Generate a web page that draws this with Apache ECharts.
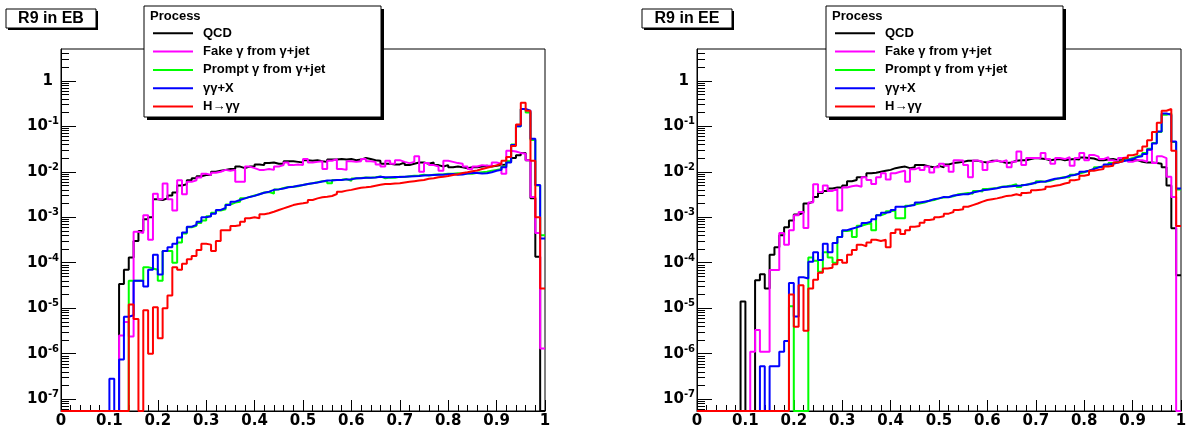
<!DOCTYPE html>
<html><head><meta charset="utf-8">
<script src="https://cdn.jsdelivr.net/npm/echarts@6/dist/echarts.min.js"></script>
<style>html,body{margin:0;padding:0;background:#fff}#c{width:1191px;height:432px}</style>
</head><body><div id="c"></div>
<script>
// ---------- data ----------
const seriesNames = ['QCD', 'Fake \u03b3 from \u03b3+jet', 'Prompt \u03b3 from \u03b3+jet', '\u03b3\u03b3+X', 'H\u2192\u03b3\u03b3'];
const seriesColors = ['#000000', '#ff00ff', '#00ff00', '#0000ff', '#ff0000'];
const panelTitles = ['R9 in EB', 'R9 in EE'];
const legendHeader = 'Process';
const xTickLabels = ['0', '0.1', '0.2', '0.3', '0.4', '0.5', '0.6', '0.7', '0.8', '0.9', '1'];
const yTickValues = [1e-7, 1e-6, 1e-5, 1e-4, 1e-3, 1e-2, 1e-1, 1];
const yTickLabels = ['10^-7', '10^-6', '10^-5', '10^-4', '10^-3', '10^-2', '10^-1', '1'];
const nBins = 100, xLow = 0, xHigh = 1;
const yMin = 5.5e-8, yMax = 5;

// EB (barrel) histograms, 100 bins of R9 from 0 to 1
const ebQCD = [
0,0,0,0,0,0,0,0,0,0,
0,0,3.4e-5,7e-5,1.3e-4,3e-4,5e-4,9e-4,1e-3,2.5e-3,
2.4e-3,2.6e-3,3e-3,3.5e-3,5e-3,5.3e-3,6.5e-3,7.2e-3,8e-3,8.5e-3,
8.5e-3,1e-2,1.05e-2,1.1e-2,1.15e-2,1.15e-2,1.3e-2,1.2e-2,1.3e-2,1.3e-2,
1.45e-2,1.4e-2,1.55e-2,1.6e-2,1.5e-2,1.5e-2,1.7e-2,1.7e-2,1.65e-2,1.6e-2,
1.8e-2,1.75e-2,1.8e-2,1.7e-2,1.65e-2,1.85e-2,1.85e-2,1.9e-2,1.85e-2,1.9e-2,
1.8e-2,1.85e-2,2e-2,1.9e-2,1.8e-2,1.75e-2,1.5e-2,1.5e-2,1.45e-2,1.45e-2,
1.6e-2,1.4e-2,1.5e-2,1.6e-2,1.6e-2,1.5e-2,1.6e-2,1.4e-2,1.3e-2,1.4e-2,
1.25e-2,1.3e-2,1.25e-2,1.2e-2,1.25e-2,1.25e-2,1.3e-2,1.35e-2,1.3e-2,1.35e-2,
1.4e-2,1.45e-2,1.65e-2,2e-2,2.3e-2,2.6e-2,1.8e-2,2.6e-3,1.35e-4,0];
const ebFake = [
0,0,0,0,0,0,0,0,0,0,
0,0,2.5e-6,5e-6,2.4e-6,4.8e-4,4.5e-4,1.1e-3,3.2e-4,3.3e-3,
2.5e-3,5.5e-3,2.5e-3,1.4e-3,6.5e-3,3.2e-3,6e-3,6.5e-3,7.5e-3,9e-3,
8.5e-3,9.5e-3,1e-2,1.1e-2,1.05e-2,1.1e-2,6e-3,6e-3,1.3e-2,1.2e-2,
1.1e-2,1.1e-2,1.15e-2,1.1e-2,1.3e-2,1.4e-2,1.6e-2,1.4e-2,1.45e-2,1.4e-2,
1.9e-2,1.6e-2,1.65e-2,1.7e-2,1.15e-2,1.75e-2,1.9e-2,1.15e-2,1.1e-2,1.7e-2,
1.65e-2,1.7e-2,1.9e-2,1.7e-2,1.65e-2,1.45e-2,1.3e-2,1.75e-2,1.5e-2,1.8e-2,
1.65e-2,1.55e-2,1.65e-2,2.2e-2,1e-2,1.55e-2,1.4e-2,1.3e-2,1.05e-2,1.75e-2,
1.65e-2,1.55e-2,1.5e-2,1.3e-2,1.15e-2,1.3e-2,1.4e-2,1.35e-2,1.35e-2,1.6e-2,
1.5e-2,9e-3,2.9e-2,2.8e-2,2.6e-2,2.5e-2,1.8e-2,2.8e-3,4.5e-4,1.3e-6];
const ebPrompt = [
0,0,0,0,0,0,0,0,0,0,
0,0,0,0,4e-5,4e-5,4e-5,8e-5,7.5e-5,7e-5,
4e-5,1.8e-4,1.8e-4,1e-4,2.8e-4,4.4e-4,6e-4,6.5e-4,7.5e-4,8.5e-4,
1.05e-3,1.25e-3,1.4e-3,1.5e-3,1.9e-3,2.1e-3,2.2e-3,2.6e-3,2.8e-3,3e-3,
3.2e-3,3.5e-3,3.6e-3,3.3e-3,4.1e-3,4.4e-3,4.6e-3,4.7e-3,4.8e-3,5.1e-3,
5.4e-3,5.6e-3,5.9e-3,6.2e-3,6.3e-3,5.6e-3,6.6e-3,6.7e-3,6.9e-3,6.3e-3,
7.1e-3,7.3e-3,7.5e-3,7.4e-3,7.6e-3,7.9e-3,7.2e-3,7.5e-3,7.4e-3,7.8e-3,
7.7e-3,8e-3,8.2e-3,8.3e-3,8.6e-3,8.3e-3,8.6e-3,8.7e-3,8.8e-3,9e-3,
9.1e-3,9.3e-3,9.2e-3,9.2e-3,9e-3,9.5e-3,9.8e-3,1e-2,1.05e-2,1.1e-2,
1.15e-2,1.3e-2,1.7e-2,4e-2,0.1,0.24,0.2,5e-2,5e-3,4e-4];
const ebDiphoton = [
0,0,0,0,0,0,0,0,0,0,
2.8e-7,0,7.5e-7,6.5e-6,7e-6,4e-5,4e-5,3e-5,7e-5,1.5e-4,
5.5e-5,1.8e-4,2.2e-4,2.6e-4,3.6e-4,4.6e-4,6.2e-4,6.8e-4,8e-4,1e-3,
1.05e-3,1.2e-3,1.45e-3,1.6e-3,1.85e-3,2.2e-3,2.4e-3,2.6e-3,2.8e-3,2.95e-3,
3.2e-3,3.45e-3,3.65e-3,4e-3,4.1e-3,4.3e-3,4.55e-3,4.7e-3,4.9e-3,5.1e-3,
5.4e-3,5.6e-3,5.8e-3,6.1e-3,6.4e-3,6.4e-3,6.6e-3,6.6e-3,6.8e-3,6.8e-3,
7.2e-3,7.2e-3,7.4e-3,7.4e-3,7.5e-3,7.8e-3,7.6e-3,7.6e-3,7.7e-3,7.7e-3,
7.8e-3,7.9e-3,8e-3,8.1e-3,8.3e-3,8.4e-3,8.5e-3,8.6e-3,8.6e-3,8.8e-3,
8.9e-3,8.6e-3,8.7e-3,9.1e-3,9.4e-3,9.4e-3,9.2e-3,9.3e-3,9.8e-3,1.05e-2,
1.1e-2,1.25e-2,1.6e-2,3.9e-2,0.1,0.24,0.22,5.3e-2,5.1e-3,3.4e-4];
const ebHiggs = [
0,0,0,0,0,0,0,0,0,0,
0,0,0,0,1.2e-5,5.8e-6,0,9e-6,1e-6,1.05e-5,
2.2e-6,1e-5,1.9e-5,8e-5,7e-5,9.5e-5,1.2e-4,1.4e-4,1.9e-4,2.6e-4,
2.5e-4,1.8e-4,3e-4,5.2e-4,5.2e-4,6.4e-4,6.7e-4,8e-4,9.5e-4,1e-3,
9.5e-4,1.17e-3,1.22e-3,1.32e-3,1.44e-3,1.57e-3,1.7e-3,1.85e-3,1.95e-3,2.02e-3,
2.1e-3,2.4e-3,2.6e-3,2.75e-3,2.83e-3,2.93e-3,3.24e-3,3.65e-3,3.85e-3,4e-3,
4.25e-3,4.45e-3,4.55e-3,4.7e-3,4.95e-3,5.2e-3,5.4e-3,5.4e-3,5.5e-3,5.6e-3,
5.8e-3,6e-3,6.2e-3,6.4e-3,6.6e-3,7e-3,7.2e-3,7.6e-3,7.8e-3,8.1e-3,
8.5e-3,8.8e-3,9.4e-3,9.8e-3,1.03e-2,1.07e-2,1.15e-2,1.22e-2,1.3e-2,1.38e-2,
1.5e-2,1.75e-2,2.1e-2,3.7e-2,0.11,0.33,0.22,1.75e-2,1e-3,2.7e-5];

// EE (endcap) histograms
const eeQCD = [
0,0,0,0,0,0,0,0,0,1.4e-5,
0,0,4.1e-5,5.6e-5,2.7e-5,1.5e-4,2.2e-4,4e-4,6e-4,8.5e-4,
1.15e-3,1.25e-3,2e-3,2.2e-3,2.8e-3,3.4e-3,3.8e-3,4.3e-3,4.5e-3,4.5e-3,
5e-3,6.2e-3,6.6e-3,7.6e-3,7.8e-3,9.3e-3,9.5e-3,1e-2,1.05e-2,1.1e-2,
1.2e-2,1.25e-2,1.3e-2,1.2e-2,1.25e-2,1.4e-2,1.4e-2,1.3e-2,1.25e-2,1.35e-2,
1.25e-2,1.45e-2,1.55e-2,1.6e-2,1.65e-2,1.75e-2,1.75e-2,1.75e-2,1.65e-2,1.6e-2,
1.75e-2,1.75e-2,1.65e-2,1.55e-2,1.6e-2,1.75e-2,1.8e-2,1.8e-2,1.9e-2,2e-2,
1.95e-2,1.9e-2,1.8e-2,1.85e-2,1.9e-2,1.8e-2,1.85e-2,1.9e-2,1.85e-2,2.05e-2,
2e-2,1.95e-2,1.8e-2,1.8e-2,1.85e-2,1.9e-2,1.8e-2,1.8e-2,1.85e-2,1.8e-2,
1.8e-2,1.65e-2,1.6e-2,1.6e-2,1.55e-2,1.5e-2,1.25e-2,5e-3,5.7e-4,5.3e-5];
const eeFake = [
0,0,0,0,0,0,0,0,0,0,
0,1.1e-6,3.3e-6,1.1e-6,1.1e-6,6.9e-5,6.9e-5,4.5e-4,2.5e-4,5.2e-4,
1.1e-3,1.3e-3,5.8e-4,2.1e-3,5.3e-3,3.6e-3,5e-3,3.8e-3,4.2e-3,1.4e-3,
4.5e-3,4.8e-3,5e-3,4.7e-3,7.6e-3,6.6e-3,5.4e-3,7.6e-3,9.3e-3,6.8e-3,
9.3e-3,1e-2,1.05e-2,6e-3,1.13e-2,1.25e-2,1.1e-2,1.3e-2,9.6e-3,1.25e-2,
1.5e-2,1.35e-2,1e-2,1.8e-2,1.76e-2,1.4e-2,7.6e-3,1.76e-2,1.66e-2,1.1e-2,
1.66e-2,1.76e-2,1.66e-2,1.8e-2,1.25e-2,1.66e-2,2.8e-2,1.4e-2,2e-2,2e-2,
2e-2,2.6e-2,1.9e-2,1.5e-2,2e-2,1.9e-2,2.1e-2,1.35e-2,2e-2,2.6e-2,
1.8e-2,2.35e-2,2.15e-2,1.9e-2,2.1e-2,1.8e-2,1.66e-2,2e-2,2.1e-2,1.66e-2,
1.8e-2,1.8e-2,1.66e-2,3e-2,1.55e-2,2.2e-2,2e-2,7.8e-3,2.8e-3,0];
const eePrompt = [
0,0,0,0,0,0,0,0,0,0,
0,0,0,0,0,0,0,0,0,1.1e-5,
0,0,0,1.3e-4,1.1e-4,6.3e-5,1.7e-4,1.3e-4,1e-4,3.7e-4,
5e-4,5.2e-4,3.7e-4,6.5e-4,7e-4,7.5e-4,5.2e-4,1.1e-3,1.2e-3,1.35e-3,
1.4e-3,9.5e-4,9.5e-4,1.8e-3,1.9e-3,2e-3,2.1e-3,2.3e-3,2.4e-3,2.6e-3,
2.7e-3,2.8e-3,2.9e-3,3.2e-3,3.3e-3,3.4e-3,3.3e-3,3.8e-3,3.7e-3,4.2e-3,
4.3e-3,4.4e-3,4.7e-3,4.8e-3,5e-3,5.3e-3,4.6e-3,5.1e-3,5.5e-3,5.6e-3,
6.2e-3,6e-3,6.3e-3,6.8e-3,7.3e-3,7.7e-3,7.6e-3,8.6e-3,9.2e-3,9.8e-3,
1.05e-2,1.12e-2,1.25e-2,1.3e-2,1.4e-2,1.55e-2,1.65e-2,1.75e-2,1.85e-2,2e-2,
2.2e-2,2.3e-2,2.6e-2,3.2e-2,4.3e-2,7.5e-2,0.18,0.19,4.5e-2,4.1e-3];
const eeDiphoton = [
0,0,0,0,0,0,0,0,0,0,
0,0,0,5.3e-7,0,5.3e-7,5.3e-7,1.1e-6,1.9e-6,3.6e-5,
6.6e-6,4.8e-5,4.5e-5,1.05e-4,1.7e-4,1.15e-4,2.6e-4,1.7e-4,2.7e-4,3.7e-4,
5.2e-4,5.6e-4,6e-4,6.5e-4,7.5e-4,8e-4,9e-4,1.1e-3,1.25e-3,1.3e-3,
1.45e-3,1.7e-3,1.7e-3,1.8e-3,1.85e-3,2.1e-3,2.2e-3,2.3e-3,2.5e-3,2.6e-3,
2.8e-3,2.75e-3,3e-3,3.1e-3,3.2e-3,3.2e-3,3.5e-3,3.7e-3,3.9e-3,4e-3,
4.2e-3,4.35e-3,4.6e-3,4.7e-3,4.8e-3,4.9e-3,5e-3,5.2e-3,5.4e-3,5.8e-3,
6e-3,6.1e-3,6.6e-3,7e-3,7.2e-3,7.5e-3,8.2e-3,8.5e-3,9e-3,1e-2,
1.05e-2,1.15e-2,1.25e-2,1.3e-2,1.45e-2,1.5e-2,1.6e-2,1.7e-2,1.8e-2,1.9e-2,
2.1e-2,2.2e-2,2.45e-2,3.1e-2,4.2e-2,7.7e-2,0.19,0.18,4.6e-2,4.3e-3];
const eeHiggs = [
0,0,0,0,0,0,0,0,0,0,
0,0,0,0,0,0,0,0,0,2e-5,
3.9e-6,3.2e-5,3.2e-6,2.7e-5,4.2e-5,6e-5,7.5e-5,7.8e-5,9.3e-5,1.15e-4,
1e-4,1.5e-4,1.9e-4,2.5e-4,2.3e-4,2.8e-4,3.2e-4,3e-4,3.2e-4,2.2e-4,
4.5e-4,5.4e-4,4.3e-4,5.2e-4,6.2e-4,6.4e-4,7.6e-4,8.7e-4,9e-4,1e-3,
1.05e-3,1.2e-3,1.3e-3,1.44e-3,1.5e-3,1.7e-3,1.85e-3,2e-3,2.2e-3,2.4e-3,
2.5e-3,2.6e-3,2.75e-3,2.95e-3,3e-3,3.2e-3,3e-3,3.4e-3,3.5e-3,3.9e-3,
4e-3,4.2e-3,4.7e-3,4.9e-3,5.1e-3,5.5e-3,5.8e-3,6.5e-3,6.8e-3,8.2e-3,
8.6e-3,1.05e-2,1.1e-2,1.15e-2,1.3e-2,1.35e-2,1.6e-2,1.7e-2,2e-2,2.3e-2,
2.45e-2,2.9e-2,3.6e-2,4.9e-2,7.5e-2,0.12,0.22,0.24,2.9e-2,6.4e-4];

const panels = [
  { title: panelTitles[0], hists: [ebQCD, ebFake, ebPrompt, ebDiphoton, ebHiggs] },
  { title: panelTitles[1], hists: [eeQCD, eeFake, eePrompt, eeDiphoton, eeHiggs] }
];

// ---------- layout / style ----------
const gridLeft = [61, 697], gridTop = 49, gridW = 484, gridH = 362;
const legendLeft = [144, 826], titleLeft = [6, 642];
const AXIS_FONT = 'DejaVu Sans';
const TXT_FONT = 'Liberation Sans';

// all tick positions (major decades + 2..9 per decade) on the log axis
const yAllTicks = [];
for (let e = -8; e <= 0; e++) for (let m = 1; m <= 9; m++) {
  const v = m * Math.pow(10, e);
  if (v > yMin && v < yMax) yAllTicks.push(v);
}

function histData(vals) {
  const w = (xHigh - xLow) / nBins;
  const pts = vals.map((v, i) => [xLow + i * w, v > 0 ? v : yMin]);
  pts.push([xHigh, vals[nBins - 1] > 0 ? vals[nBins - 1] : yMin]);
  return pts;
}
function yLabel(v) {
  const e = Math.round(Math.log10(v));
  const s = yTickLabels[e + 7];
  if (s === undefined) return '';
  if (s.indexOf('^') < 0) return '{o|' + s + '}';
  const p = s.split('^');
  return '{b|' + p[0] + '}{s|' + p[1] + '}';
}

const grids = [], xAxes = [], yAxes = [], series = [], graphics = [];
panels.forEach((p, i) => {
  grids.push({ left: gridLeft[i], top: gridTop, width: gridW, height: gridH, show: true,
    borderColor: '#000', borderWidth: 1, backgroundColor: '#fff' });
  xAxes.push({ gridIndex: i, type: 'value', min: xLow, max: xHigh, interval: 0.1,
    axisLine: { show: true, lineStyle: { color: '#000', width: 1 } },
    axisTick: { show: true, inside: true, length: 11, lineStyle: { color: '#000', width: 1 } },
    minorTick: { show: true, splitNumber: 5, length: 6, lineStyle: { color: '#000', width: 1 } },
    splitLine: { show: false }, minorSplitLine: { show: false },
    axisLabel: { margin: 3, color: '#000', fontFamily: AXIS_FONT, fontWeight: 'bold', fontSize: 15,
      formatter: v => xTickLabels[Math.round(v * 10)] } });
  // left axis: labels + short ticks at every decade subdivision
  yAxes.push({ gridIndex: i, type: 'log', logBase: 10, min: yMin, max: yMax, position: 'left',
    axisLine: { show: true, lineStyle: { color: '#000', width: 1 } },
    axisTick: { show: true, inside: true, length: 8, customValues: yAllTicks, lineStyle: { color: '#000', width: 1 } },
    splitLine: { show: false },
    axisLabel: { show: true, customValues: yTickValues, margin: 2, formatter: yLabel,
      rich: {
        b: { fontFamily: AXIS_FONT, fontWeight: 'bold', fontSize: 15, color: '#000' },
        s: { fontFamily: AXIS_FONT, fontWeight: 'bold', fontSize: 10, color: '#000', padding: [0, 0, 9, 0] },
        o: { fontFamily: AXIS_FONT, fontWeight: 'bold', fontSize: 15, color: '#000', padding: [0, 6, 0, 0] }
      } } });
  // second axis moved onto the left edge: long ticks at the decades
  yAxes.push({ gridIndex: i, type: 'log', logBase: 10, min: yMin, max: yMax, position: 'right',
    offset: -gridW,
    axisLine: { show: false },
    axisTick: { show: true, inside: false, length: 15, customValues: yTickValues, lineStyle: { color: '#000', width: 1 } },
    axisLabel: { show: false }, splitLine: { show: false } });
  p.hists.forEach((h, k) => {
    series.push({ type: 'line', name: seriesNames[k], xAxisIndex: i, yAxisIndex: 2 * i,
      data: histData(h), step: 'end', symbol: 'none', showSymbol: false, silent: true,
      lineStyle: { color: seriesColors[k], width: 2 }, itemStyle: { color: seriesColors[k] },
      z: 2 + k, animation: false });
  });
  // title box
  const tx = titleLeft[i];
  graphics.push({ type: 'rect', z: 50, shape: { x: tx + 2, y: 11, width: 90, height: 19 }, style: { fill: '#000' } });
  graphics.push({ type: 'rect', z: 51, shape: { x: tx, y: 9, width: 90, height: 19 }, style: { fill: '#fff', stroke: '#000', lineWidth: 1 } });
  graphics.push({ type: 'text', z: 52, x: tx + 45, y: 19, style: { text: p.title, fill: '#000',
    font: 'bold 16px "' + TXT_FONT + '"', align: 'center', verticalAlign: 'middle' } });
  // legend box
  const lx = legendLeft[i];
  graphics.push({ type: 'rect', z: 50, shape: { x: lx + 3, y: 9, width: 237, height: 111 }, style: { fill: '#000' } });
  graphics.push({ type: 'rect', z: 51, shape: { x: lx, y: 6, width: 237, height: 111 }, style: { fill: '#fff', stroke: '#000', lineWidth: 1 } });
  graphics.push({ type: 'text', z: 52, x: lx + 6, y: 16, style: { text: legendHeader, fill: '#000',
    font: 'bold 13px "' + TXT_FONT + '"', align: 'left', verticalAlign: 'middle' } });
  seriesNames.forEach((n, k) => {
    const ry = 33.3 + k * 18.3;
    graphics.push({ type: 'line', z: 52, shape: { x1: lx + 9, y1: ry, x2: lx + 49, y2: ry },
      style: { stroke: seriesColors[k], lineWidth: 2 } });
    graphics.push({ type: 'text', z: 52, x: lx + 59, y: ry, style: { text: n, fill: '#000',
      font: 'bold 13px "' + TXT_FONT + '"', align: 'left', verticalAlign: 'middle' } });
  });
});

const chart = echarts.init(document.getElementById('c'), null, { renderer: 'canvas' });
chart.setOption({
  animation: false,
  backgroundColor: '#fff',
  grid: grids, xAxis: xAxes, yAxis: yAxes, series: series,
  graphic: { elements: graphics }
});
</script>
</body></html>
